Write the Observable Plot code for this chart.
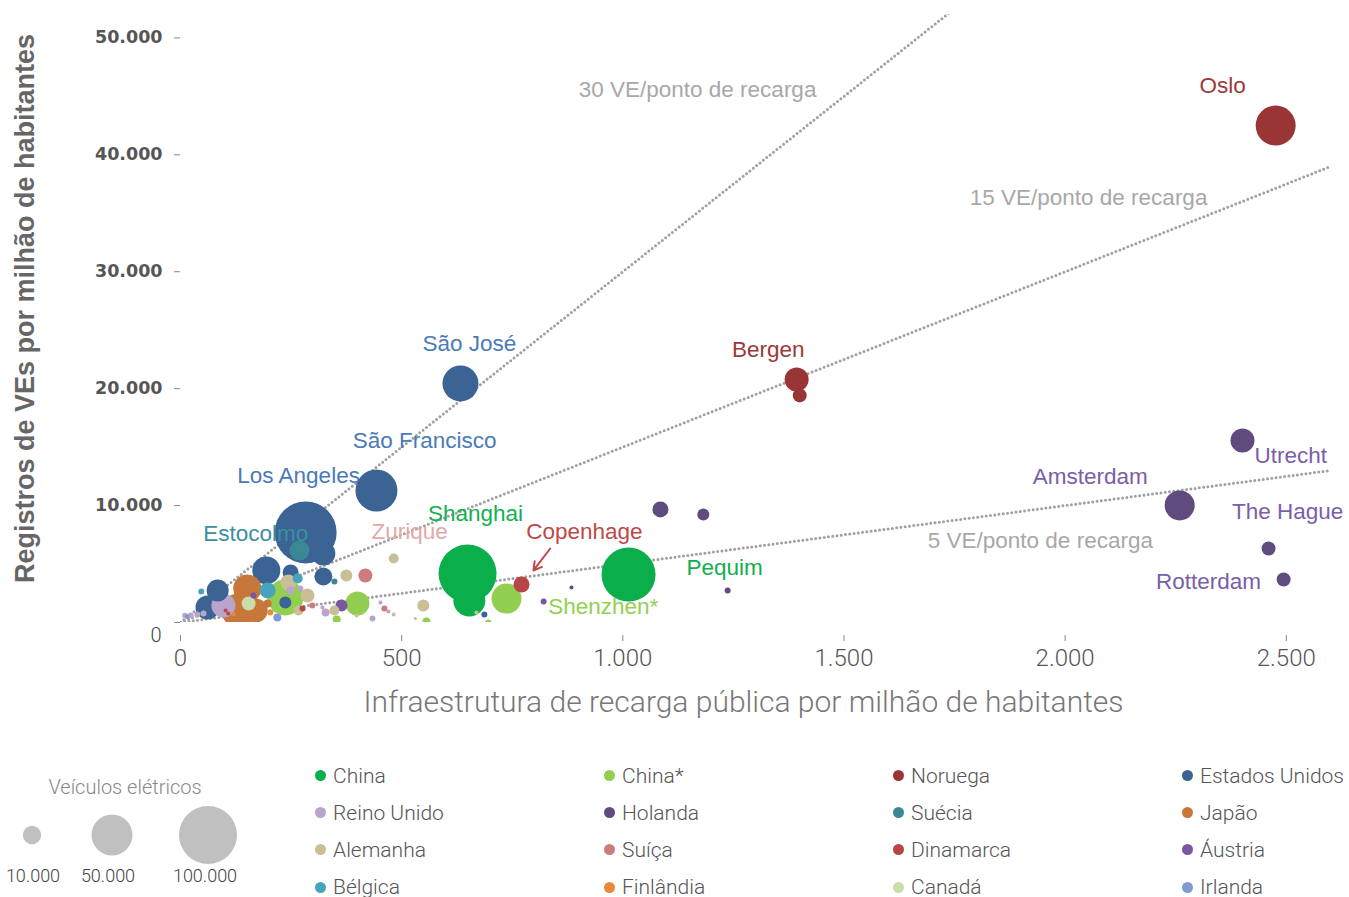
<!DOCTYPE html>
<html><head><meta charset="utf-8">
<script src="https://cdn.jsdelivr.net/npm/d3@7"></script>
<script src="https://cdn.jsdelivr.net/npm/@observablehq/plot@0.6"></script>
<style>
html,body{margin:0;padding:0;background:#fff;overflow:hidden}
#wrap{position:relative;width:1349px;height:897px;overflow:hidden}
#chart{position:absolute;left:0;top:0}
#sizeLegend{position:absolute;left:0;top:740px}
#catLegend{position:absolute;left:315px;top:757px;display:grid;grid-template-columns:289px 289px 289px 170px;grid-auto-rows:37.2px;font-family:Roboto,sans-serif;font-weight:300;font-size:21px;color:#555}
.item{display:flex;align-items:center;white-space:nowrap}
.sw{width:11px;height:11px;border-radius:50%;margin-right:7px;flex:none}
</style></head><body>
<div id="wrap"><div id="chart"></div><div id="sizeLegend"></div><div id="catLegend"></div></div>
<script>
// ---- categories ----
const countries = ["China","China*","Noruega","Estados Unidos","Reino Unido","Holanda","Suécia","Japão","Alemanha","Suíça","Dinamarca","Áustria","Bélgica","Finlândia","Canadá","Irlanda"];
const countryColors = ["#0aaf4c","#92cf50","#9a3535","#3b6393","#b9a5cc","#5f4b7e","#3a8896","#c7773a","#c9be96","#cd7b7b","#b84646","#7a56a1","#46a4bf","#e8893b","#c9dcaa","#7d9bd1"];

// ---- points (one entry per city) ----
const pointCountry = [
 "Noruega","Noruega","Noruega","Estados Unidos","Estados Unidos","Estados Unidos","Estados Unidos","Estados Unidos","Estados Unidos","Estados Unidos",
 "Estados Unidos","Estados Unidos","Estados Unidos","Estados Unidos","Suécia","Suécia","Bélgica","Bélgica","Bélgica","Reino Unido",
 "Japão","Japão","Japão","Japão","Canadá","Áustria","China*","Alemanha","Reino Unido","Reino Unido",
 "Alemanha","Alemanha","Dinamarca","Suíça","Reino Unido","Reino Unido","Áustria","China*","Reino Unido","Reino Unido",
 "Reino Unido","Dinamarca","Dinamarca","Irlanda","Alemanha","Alemanha","Suíça","China*","Reino Unido","Suíça",
 "Reino Unido","Alemanha","Reino Unido","Alemanha","Alemanha","Alemanha","Alemanha","China*","China","China",
 "Alemanha","China*","China*","Dinamarca","China","Áustria","Holanda","Holanda","Holanda","Holanda",
 "Holanda","Holanda","Holanda","Holanda","Finlândia","Irlanda","Reino Unido","Finlândia"
];
const pointCharging = [
 2476,1393,1400,633,443,283,323,194,323,84,
 61,237,249,687,269,348,197,265,47,97,
 151,131,170,197,154,165,237,244,249,271,
 287,267,276,298,321,328,364,353,23,38,
 52,102,108,219,482,375,418,400,452,461,
 470,482,434,348,398,549,531,556,649,653,
 669,696,737,771,1013,821,884,1237,1085,1182,
 2401,2259,2460,2494,203,15,10,120
];
const pointRegistrations = [
 42500,20790,19420,20445,11290,7700,5900,4450,3935,2740,
 1280,1710,4280,680,6160,3510,2740,3760,2650,1450,
 2910,1030,1030,1625,1625,2310,2140,3420,2740,2910,
 2310,1030,1200,1450,1280,855,1450,260,600,680,
 770,1030,770,430,5475,4020,4020,1625,1710,1200,
 940,680,340,1030,600,1450,340,85,4190,1880,
 855,0,2050,3250,4100,1800,2990,2740,9670,9240,
 15570,10010,6330,3680,855,500,600,700
];
const pointEVs = [
 47600,17100,5800,38500,52400,114000,17100,23300,9600,14400,
 17100,4300,7600,1070,11900,1070,7600,2970,1070,17100,
 23300,34400,17100,1900,5800,1070,38500,7600,1900,1070,
 5800,2970,1070,1070,480,1900,4300,1900,1070,1070,
 1070,480,480,1900,2970,4300,5800,17100,480,1070,
 480,480,1070,2970,480,4300,270,1900,100000,30400,
 480,1070,26800,7600,86700,1070,480,1070,7600,4300,
 17100,26800,5800,5800,1070,700,900,600
];

// ---- city labels ----
const labelText = ["Oslo","Bergen","São José","São Francisco","Los Angeles","Estocolmo","Zurique","Shanghai","Copenhage","Pequim","Shenzhen*","Utrecht","Amsterdam","The Hague","Rotterdam"];
const labelX = [2356,1329,653,552,267,170,518,667,913,1230,956,2510,2057,2503,2324];
const labelY = [45930,23350,23870,15570,12570,7610,7780,9320,7780,4700,1370,14290,12490,9500,3510];
const labelColor = ["#9b3a3a","#9b3a3a","#4a7ab8","#4a7ab8","#4a7ab8","#3a8fa0","#e2a9a9","#10b050","#c04848","#10b050","#92d050","#7a5ea8","#7a5ea8","#7a5ea8","#7a5ea8"];

// ---- reference ratio lines ----
const ratios = [30,15,5];
const ratioText = ["30 VE/ponto de recarga","15 VE/ponto de recarga","5 VE/ponto de recarga"];
const ratioLabelX = [1169,2053,1944];
const ratioLabelY = [45600,36360,7015];

// Copenhage arrow
const arrowFrom = [836,6330], arrowTo = [798,4450];

// ticks
const xTicks = [0,500,1000,1500,2000,2500];
const yTicks = [0,10000,20000,30000,40000,50000];
const sizeLegendValues = [10000,50000,100000];

const xMax = 2600, yMax = 52000;
const fmt = d3.formatLocale({decimal:",",thousands:".",grouping:[3],currency:["R$",""]}).format(",");

const points = pointCountry.map((c,i)=>({country:c,x:pointCharging[i],y:pointRegistrations[i],ev:pointEVs[i]}))
  .sort((a,b)=>b.ev-a.ev);
const labels = labelText.map((t,i)=>({text:t,x:labelX[i],y:labelY[i],color:labelColor[i]}));
const lineData = ratios.flatMap(k=>{const xe=Math.min(xMax, yMax*1.01/k); return [{k,x:0,y:0},{k,x:xe,y:k*xe}];});
const ratioLabels = ratioText.map((t,i)=>({text:t,x:ratioLabelX[i],y:ratioLabelY[i]}));

const chart = Plot.plot({
  width:1349, height:740,
  marginLeft:180, marginRight:19, marginTop:14, marginBottom:118,
  x:{domain:[0,xMax]}, y:{domain:[0,yMax]},
  r:{domain:[0,100000], range:[0,29]},
  color:{domain:countries, range:countryColors},
  style:{fontFamily:"'Liberation Sans', Arial, sans-serif", background:"#fff", overflow:"visible"},
  marks:[
    Plot.line(lineData,{x:"x",y:"y",z:"k",stroke:"#a0a0a0",strokeWidth:3,strokeLinecap:"round",strokeDasharray:"0 4.3",clip:true}),
    Plot.dot(points,{x:"x",y:"y",r:"ev",fill:"country",fillOpacity:1,stroke:null,clip:true}),
    Plot.text(ratioLabels,{x:"x",y:"y",text:"text",fill:"#a8a8a8",fontSize:22.5}),
    Plot.text(labels,{x:"x",y:"y",text:"text",fill:d=>d.color,fontSize:22.5}),
    Plot.arrow([{x1:arrowFrom[0],y1:arrowFrom[1],x2:arrowTo[0],y2:arrowTo[1]}],{x1:"x1",y1:"y1",x2:"x2",y2:"y2",stroke:"#c04848",strokeWidth:2,headLength:9}),
    Plot.axisX({ticks:xTicks,tickFormat:fmt,tickSize:6,dy:13,tickPadding:7,fontSize:24,fontFamily:"Roboto",fontWeight:300,fill:"#555",stroke:"#888",label:null}),
    Plot.axisY({ticks:yTicks,tickFormat:d=>d?fmt(d):"",tickSize:6,tickPadding:12,fontSize:17.5,fontFamily:"DejaVu Sans",fontWeight:"bold",fill:"#555",stroke:"#888",label:null}),
    Plot.axisY({ticks:[0],tickFormat:fmt,tickSize:0,tickPadding:19,dy:13,fontSize:20,fontFamily:"Roboto",fontWeight:300,fill:"#444",label:null}),
    Plot.text(["Registros de VEs por milhão de habitantes"],{frameAnchor:"left",textAnchor:"middle",rotate:-90,dx:-155,dy:-10,fontSize:27,fontWeight:"bold",fill:"#666"}),
    Plot.text(["Infraestrutura de recarga pública por milhão de habitantes"],{frameAnchor:"bottom",dx:-12,dy:89,fontSize:30,fontFamily:"Roboto",fontWeight:300,fill:"#777"})
  ]
});
document.getElementById("chart").append(chart);

// size legend, radii from the chart's r scale
const rScale = chart.scale("r");
const sizeX = [32,112,208], labX=[33,108,205];
const sl = d3.select("#sizeLegend").append("svg").attr("width",260).attr("height",157);
sl.append("text").attr("x",125).attr("y",49).attr("text-anchor","middle").attr("dominant-baseline","middle")
  .attr("font-family","Roboto").attr("font-weight",300).attr("font-size",20).attr("fill","#888").text("Veículos elétricos");
sizeLegendValues.forEach((v,i)=>{
  sl.append("circle").attr("cx",sizeX[i]).attr("cy",95).attr("r",rScale.apply(v)).attr("fill","#c0c0c0");
  sl.append("text").attr("x",labX[i]).attr("y",137).attr("text-anchor","middle").attr("dominant-baseline","middle")
    .attr("font-family","Roboto").attr("font-weight",300).attr("font-size",18).attr("fill","#444").text(fmt(v));
});

// category legend
const cl = document.getElementById("catLegend");
countries.forEach((c,i)=>{
  const it=document.createElement("div"); it.className="item";
  const sw=document.createElement("span"); sw.className="sw"; sw.style.background=countryColors[i];
  const tx=document.createElement("span"); tx.textContent=c;
  it.append(sw,tx); cl.append(it);
});
</script></body></html>
